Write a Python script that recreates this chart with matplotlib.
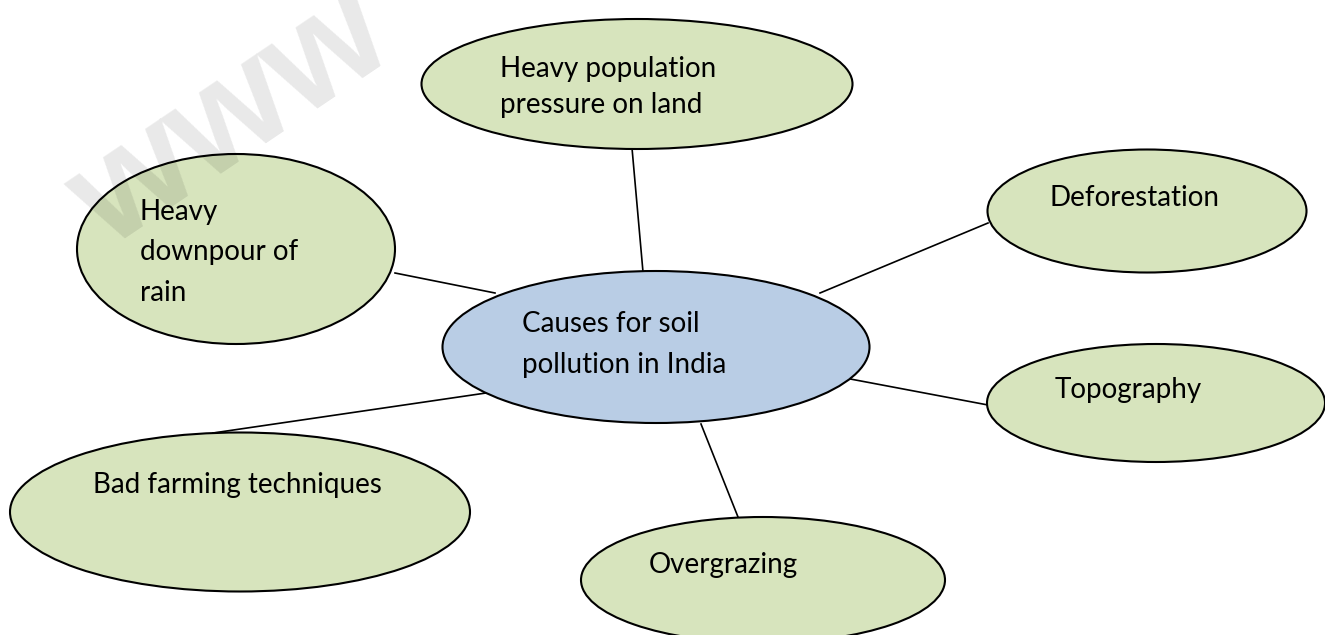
import matplotlib
matplotlib.use('Agg')
import matplotlib.pyplot as plt
from matplotlib.patches import Ellipse

# ellipse nodes: centre x, centre y, width, height (pixels, y downwards)
node_names = ['centre', 'population', 'downpour', 'deforestation', 'topography', 'farming', 'overgrazing']
node_cx = [656, 637, 236, 1147, 1156, 240, 763]
node_cy = [347, 84, 249, 211, 403, 512, 580]
node_w = [427, 431, 318, 319, 338, 460, 364]
node_h = [152, 130, 190, 123, 118, 159, 126]
node_fill = ['#b9cde5', '#d7e4bd', '#d7e4bd', '#d7e4bd', '#d7e4bd', '#d7e4bd', '#d7e4bd']

# text lines: left x, baseline y
labels = [['Causes for soil', 'pollution in India'],
          ['Heavy population', 'pressure on land'],
          ['Heavy', 'downpour of', 'rain'],
          ['Deforestation'],
          ['Topography'],
          ['Bad farming techniques'],
          ['Overgrazing']]
label_x = [522, 500, 140, 1049, 1055, 93, 649]
label_y = [[332, 373], [77, 113], [220, 260, 301], [206], [398], [493], [573]]

# connectors: (x0, y0, x1, y1)
links = [(632, 148, 643, 272),
         (395, 273, 495, 293),
         (820, 293, 988, 223),
         (845, 378, 988, 405),
         (213, 433, 486, 393),
         (701, 424, 738, 517)]

fig = plt.figure(figsize=(13.25, 6.35), dpi=100)
ax = fig.add_axes([0, 0, 1, 1])
ax.set_xlim(0, 1325)
ax.set_ylim(635, 0)
ax.axis('off')

for x0, y0, x1, y1 in links:
    ax.plot([x0, x1], [y0, y1], color='black', lw=1.2, zorder=1)

for i in range(len(node_names)):
    e = Ellipse((node_cx[i], node_cy[i]), node_w[i], node_h[i],
                facecolor=node_fill[i], edgecolor='black', lw=1.5, zorder=2)
    ax.add_patch(e)
    for line, y in zip(labels[i], label_y[i]):
        ax.text(label_x[i], y, line, ha='left', va='baseline', fontsize=20,
                family='Lato', color='black', zorder=3)

# faint watermark
ax.text(108, 250, 'www', rotation=34, fontsize=108, fontweight='bold',
        family='Liberation Sans', color='black', alpha=0.09,
        ha='left', va='baseline', zorder=4, rotation_mode='anchor')

fig.savefig('out.png', dpi=100)
